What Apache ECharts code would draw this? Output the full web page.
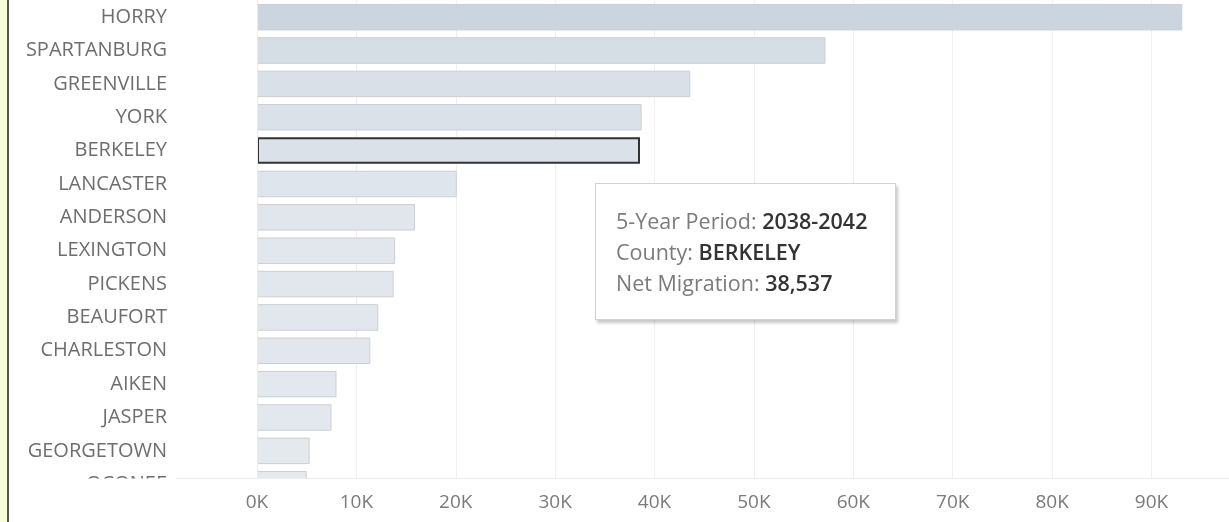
<!DOCTYPE html>
<html>
<head>
<meta charset="utf-8">
<script src="https://cdn.jsdelivr.net/npm/echarts@6/dist/echarts.min.js"></script>
<style>
  html, body { margin: 0; padding: 0; background: #fff; }
  #chart { width: 1229px; height: 522px; }
</style>
</head>
<body>
<div id="chart"></div>
<script>
// ---- data ----
const counties = ['HORRY', 'SPARTANBURG', 'GREENVILLE', 'YORK', 'BERKELEY', 'LANCASTER', 'ANDERSON',
  'LEXINGTON', 'PICKENS', 'BEAUFORT', 'CHARLESTON', 'AIKEN', 'JASPER', 'GEORGETOWN', 'OCONEE'];
const netMigration = [93100, 57200, 43600, 38700, 38537, 20100, 15900,
  13900, 13750, 12200, 11400, 8000, 7500, 5300, 5000];
const xTicks = [0, 10000, 20000, 30000, 40000, 50000, 60000, 70000, 80000, 90000];
const period = '2038-2042';
const selectedCounty = 'BERKELEY';

const FONT = '"Open Sans", sans-serif';
const xMin = -8150, xMax = 97800;
const selIdx = counties.indexOf(selectedCounty);

const chart = echarts.init(document.getElementById('chart'), null, { renderer: 'canvas' });

const seriesData = netMigration.map((v, i) => i === selIdx
  ? { value: v, itemStyle: { borderColor: '#333333', borderWidth: 2 } }
  : v);

const fmtK = v => (v / 1000) + 'K';
const fmtNum = v => v.toLocaleString('en-US');

chart.setOption({
  animation: false,
  textStyle: { fontFamily: FONT },
  grid: [
    { left: 176, right: 0, top: 0.5, height: 500.4, containLabel: false },
    { left: 176, right: 0, top: 0, height: 478, containLabel: false }
  ],
  xAxis: [
    {
      gridIndex: 0, type: 'value', min: xMin, max: xMax,
      axisLine: { show: false },
      axisTick: { show: false, customValues: xTicks },
      axisLabel: { show: false, customValues: xTicks },
      splitLine: { show: true, lineStyle: { color: '#efefef', width: 1 } }
    },
    {
      gridIndex: 1, type: 'value', min: xMin, max: xMax, z: 60,
      axisLine: { show: true, lineStyle: { color: '#ececec', width: 1 } },
      axisTick: { show: false, customValues: xTicks },
      axisLabel: {
        customValues: xTicks, formatter: fmtK, color: '#7a7a7a',
        fontSize: 19, fontFamily: FONT, margin: 15
      },
      splitLine: { show: false }
    }
  ],
  yAxis: [
    {
      gridIndex: 0, type: 'category', data: counties, inverse: true,
      axisLine: { show: false }, axisTick: { show: false },
      axisLabel: { color: '#6e6e6e', fontSize: 20, fontFamily: FONT, margin: 9, padding: [3, 0, 0, 0] }
    },
    {
      gridIndex: 1, type: 'value', min: 0, max: 1, z: 60,
      axisLine: { show: true, lineStyle: { color: '#ececec', width: 1 } },
      axisTick: { show: false }, axisLabel: { show: false }, splitLine: { show: false }
    }
  ],
  visualMap: {
    show: false, type: 'continuous', seriesIndex: 0, min: 0, max: 93100, dimension: 0,
    inRange: { color: ['#e5eaef', '#cbd5df'] }
  },
  tooltip: {
    trigger: 'item',
    alwaysShowContent: true,
    transitionDuration: 0,
    showDelay: 0,
    position: [595, 183],
    backgroundColor: '#ffffff',
    borderColor: '#d2d2d2',
    borderWidth: 1,
    padding: [21, 20, 21, 20],
    extraCssText: 'border-radius:0;box-shadow:2px 3px 3px rgba(0,0,0,0.22);',
    formatter: p => {
      const lab = 'color:#7b7b7b;';
      const val = 'color:#333333;font-weight:600;';
      return '<div style="width:259px;font-family:' + FONT.replace(/"/g, "'") + ';font-size:21.5px;line-height:31px;white-space:nowrap;">' +
        '<div><span style="' + lab + '">5-Year Period: </span><span style="' + val + '">' + period + '</span></div>' +
        '<div><span style="' + lab + '">County: </span><span style="' + val + '">' + p.name + '</span></div>' +
        '<div><span style="' + lab + '">Net Migration: </span><span style="' + val + '">' + fmtNum(p.value) + '</span></div>' +
        '</div>';
    }
  },
  graphic: [
    { type: 'rect', z: 50, shape: { x: 9, y: 478.5, width: 1229, height: 50 }, style: { fill: '#ffffff' }, silent: true },
    { type: 'rect', z: 100, shape: { x: 0, y: 0, width: 7, height: 522 }, style: { fill: '#f7fcd9' }, silent: true },
    { type: 'rect', z: 100, shape: { x: 7, y: 0, width: 2, height: 522 }, style: { fill: '#565656' }, silent: true }
  ],
  series: [
    {
      type: 'bar', xAxisIndex: 0, yAxisIndex: 0,
      data: seriesData,
      barWidth: 26.5,
      itemStyle: { borderColor: '#cbcfd3', borderWidth: 1 },
      emphasis: { disabled: true }
    }
  ]
});

chart.dispatchAction({ type: 'showTip', seriesIndex: 0, dataIndex: selIdx });
</script>
</body>
</html>
